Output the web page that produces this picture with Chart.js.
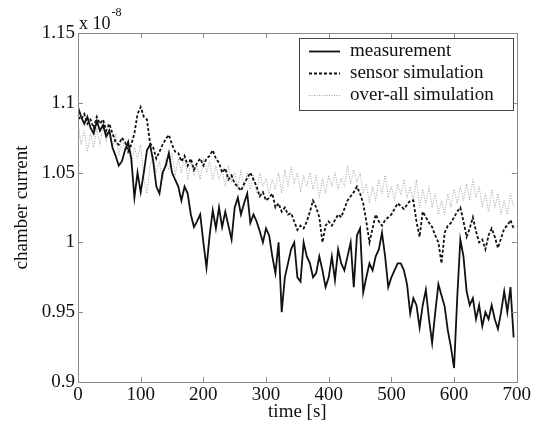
<!DOCTYPE html>
<html>
<head>
<meta charset="utf-8">
<script src="https://cdn.jsdelivr.net/npm/chart.js@4"></script>
<style>
  html, body { margin: 0; padding: 0; background: #fff; }
  #wrap { width: 533px; height: 428px; position: relative; }
</style>
</head>
<body>
<div id="wrap"><canvas id="chart_chamberCurrent"></canvas></div>
<script>
// time axis [s]
var timeValues = [
  0, 5, 10, 15, 20, 25, 30, 35, 40, 45,
  50, 55, 60, 65, 70, 75, 80, 85, 90, 95,
  100, 105, 110, 115, 120, 125, 130, 135, 140, 145,
  150, 155, 160, 165, 170, 175, 180, 185, 190, 195,
  200, 205, 210, 215, 220, 225, 230, 235, 240, 245,
  250, 255, 260, 265, 270, 275, 280, 285, 290, 295,
  300, 305, 310, 315, 320, 325, 330, 335, 340, 345,
  350, 355, 360, 365, 370, 375, 380, 385, 390, 395,
  400, 405, 410, 415, 420, 425, 430, 435, 440, 445,
  450, 455, 460, 465, 470, 475, 480, 485, 490, 495,
  500, 505, 510, 515, 520, 525, 530, 535, 540, 545,
  550, 555, 560, 565, 570, 575, 580, 585, 590, 595,
  600, 605, 610, 615, 620, 625, 630, 635, 640, 645,
  650, 655, 660, 665, 670, 675, 680, 685, 690, 695
];

// chamber current, in units of 1e-8
var measurement = [
  1.097, 1.09, 1.085, 1.09, 1.082, 1.078, 1.087, 1.08, 1.084, 1.076,
  1.08, 1.068, 1.062, 1.055, 1.058, 1.066, 1.072, 1.06, 1.032, 1.05,
  1.036, 1.05, 1.066, 1.07, 1.058, 1.04, 1.035, 1.05, 1.055, 1.064,
  1.05, 1.045, 1.04, 1.03, 1.04, 1.035, 1.02, 1.011, 1.015, 1.02,
  1.0, 0.982, 1.005, 1.023, 1.01, 1.025, 1.011, 1.022, 1.012, 1.002,
  1.025, 1.032, 1.02, 1.028, 1.035, 1.014, 1.02, 1.015, 1.008, 1.0,
  1.01, 1.005, 0.99, 0.978, 1.0, 0.95, 0.975, 0.985, 0.995, 1.0,
  0.975, 0.972, 1.0, 0.99, 0.985, 0.975, 0.978, 0.99, 0.98, 0.968,
  0.975, 0.99, 0.973, 0.995, 0.985, 0.98, 0.99, 1.0, 0.968, 1.005,
  1.01, 0.964, 0.975, 0.985, 0.98, 0.99, 0.995, 1.007, 0.99, 0.968,
  0.975, 0.98, 0.985, 0.985, 0.98, 0.97, 0.949, 0.96, 0.955, 0.939,
  0.955, 0.966, 0.945, 0.928, 0.95, 0.97, 0.962, 0.954, 0.937, 0.925,
  0.91, 0.96, 1.002, 0.99, 0.965, 0.955, 0.96, 0.945, 0.955, 0.94,
  0.95, 0.945, 0.955, 0.945, 0.938, 0.95, 0.965, 0.95, 0.968, 0.932
];

var sensorSimulation = [
  1.09, 1.088, 1.092, 1.085, 1.088, 1.082, 1.09, 1.085, 1.088, 1.08,
  1.085, 1.078, 1.072, 1.07, 1.075, 1.072, 1.065, 1.07, 1.078, 1.092,
  1.097, 1.09, 1.088, 1.071, 1.068, 1.06, 1.065, 1.07, 1.074, 1.077,
  1.07, 1.065, 1.064, 1.058, 1.062, 1.055, 1.06, 1.052, 1.057, 1.06,
  1.055, 1.06, 1.062, 1.066, 1.06, 1.057, 1.05, 1.053, 1.045, 1.048,
  1.042, 1.04, 1.037, 1.042, 1.046, 1.05, 1.045, 1.04, 1.033, 1.036,
  1.03, 1.032, 1.035, 1.025, 1.028, 1.022, 1.025, 1.02, 1.021, 1.015,
  1.009, 1.012, 1.01, 1.015, 1.022, 1.03, 1.025, 1.018, 1.0, 1.012,
  1.015, 1.012, 1.016, 1.02, 1.018, 1.024, 1.03, 1.033, 1.036, 1.04,
  1.035, 1.028, 1.015, 1.0, 1.01, 1.02, 1.015, 1.012, 1.016, 1.018,
  1.02, 1.024, 1.028, 1.026, 1.024, 1.027, 1.03, 1.03, 1.015, 1.004,
  1.022, 1.018, 1.014, 1.011, 1.005, 1.0, 0.985, 1.007, 1.012, 1.014,
  1.018, 1.022, 1.025, 1.015, 1.004, 1.01, 1.018, 1.008, 1.0, 1.002,
  0.995, 1.005, 1.01, 1.004, 0.996, 1.003, 1.01, 1.012, 1.016, 1.01
];

var overallSimulation = [
  1.085, 1.07, 1.08, 1.065, 1.078, 1.068, 1.082, 1.07, 1.085, 1.072,
  1.08, 1.068, 1.078, 1.062, 1.075, 1.065, 1.07, 1.055, 1.068, 1.06,
  1.07, 1.045, 1.035, 1.055, 1.062, 1.05, 1.058, 1.045, 1.06, 1.052,
  1.064, 1.048, 1.06, 1.05, 1.062, 1.045, 1.058, 1.048, 1.055, 1.045,
  1.06, 1.05, 1.058, 1.045, 1.055, 1.045, 1.052, 1.04, 1.055, 1.043,
  1.05, 1.038, 1.052, 1.04, 1.05, 1.038, 1.048, 1.035, 1.05, 1.04,
  1.046, 1.035, 1.045, 1.038, 1.05, 1.035, 1.052, 1.04, 1.054, 1.042,
  1.05, 1.036, 1.048, 1.04, 1.05, 1.038, 1.048, 1.032, 1.046, 1.035,
  1.048, 1.04, 1.05, 1.038, 1.046, 1.04, 1.055, 1.042, 1.052, 1.043,
  1.05, 1.035, 1.042, 1.028, 1.04, 1.03, 1.045, 1.035, 1.048, 1.032,
  1.04, 1.03, 1.042, 1.034, 1.045, 1.032, 1.04, 1.03, 1.045, 1.025,
  1.038, 1.028, 1.04, 1.025, 1.035, 1.02, 1.03, 1.02, 1.035, 1.025,
  1.038, 1.028, 1.04, 1.03, 1.042, 1.03, 1.045, 1.032, 1.04, 1.025,
  1.035, 1.022, 1.038, 1.025, 1.035, 1.02, 1.03, 1.02, 1.035, 1.025
];

var seriesLabels = ['measurement', 'sensor simulation', 'over-all simulation'];
var xTickValues = [0, 100, 200, 300, 400, 500, 600, 700];
var yTickValues = [0.9, 0.95, 1, 1.05, 1.1, 1.15];
var yExponentText = 'x 10';
var yExponent = '-8';

function toPoints(values) {
    return values.map(function (v, i) { return { x: timeValues[i], y: v }; });
}

var serif = '"Liberation Serif", "Times New Roman", serif';
var frameColor = '#8a8a8a';

var chart_chamberCurrent = new Chart(document.getElementById('chart_chamberCurrent'), {
    type: 'line',
    data: {
        datasets: [
            {
                label: seriesLabels[0],
                data: toPoints(measurement),
                borderColor: '#111',
                borderWidth: 1.8,
                pointRadius: 0,
                tension: 0
            },
            {
                label: seriesLabels[1],
                data: toPoints(sensorSimulation),
                borderColor: '#111',
                borderWidth: 1.8,
                borderDash: [3, 2],
                pointRadius: 0,
                tension: 0
            },
            {
                label: seriesLabels[2],
                data: toPoints(overallSimulation),
                borderColor: '#a0a0a0',
                borderWidth: 1,
                borderDash: [1, 1.5],
                pointRadius: 0,
                tension: 0
            }
        ]
    },
    options: {
        animation: false,
        responsive: true,
        maintainAspectRatio: false,
        layout: {
            padding: { top: 33, right: 15, left: 0, bottom: 0 }
        },
        plugins: {
            legend: { display: false },
            title: { display: false },
            tooltip: { enabled: false }
        },
        scales: {
            x: {
                type: 'linear',
                min: 0,
                max: 700,
                afterFit: function (scale) { scale.height = 46; },
                afterBuildTicks: function (scale) {
                    scale.ticks = xTickValues.map(function (v) { return { value: v }; });
                },
                title: {
                    display: true,
                    text: 'time [s]',
                    color: '#111',
                    font: { family: serif, size: 19 },
                    padding: { top: 0, bottom: 5 }
                },
                ticks: {
                    color: '#111',
                    font: { family: serif, size: 19 },
                    padding: 2,
                    maxRotation: 0
                },
                grid: { display: false, drawTicks: false },
                border: { display: false }
            },
            y: {
                type: 'linear',
                min: 0.9,
                max: 1.15,
                afterFit: function (scale) { scale.width = 78; },
                afterBuildTicks: function (scale) {
                    scale.ticks = yTickValues.map(function (v) { return { value: v }; });
                },
                title: {
                    display: true,
                    text: 'chamber current',
                    color: '#111',
                    font: { family: serif, size: 19 },
                    padding: { top: 11, bottom: 0 }
                },
                ticks: {
                    color: '#111',
                    font: { family: serif, size: 19 },
                    padding: 3,
                    callback: function (v) { return String(parseFloat(Number(v).toFixed(2))); }
                },
                grid: { display: false, drawTicks: false },
                border: { display: false }
            }
        }
    },
    plugins: [{
        id: 'matlabFrame',
        beforeDraw: function (chart) {
            var ctx = chart.ctx;
            ctx.save();
            ctx.fillStyle = 'white';
            ctx.fillRect(0, 0, chart.width, chart.height);
            ctx.restore();
        },
        afterDraw: function (chart) {
            var ctx = chart.ctx;
            var a = chart.chartArea;
            var xs = chart.scales.x, ys = chart.scales.y;
            var tl = 5;
            ctx.save();
            ctx.strokeStyle = frameColor;
            ctx.lineWidth = 1;
            ctx.strokeRect(Math.round(a.left) + 0.5, Math.round(a.top) + 0.5,
                Math.round(a.right - a.left), Math.round(a.bottom - a.top));
            ctx.beginPath();
            xTickValues.forEach(function (v) {
                var px = Math.round(xs.getPixelForValue(v)) + 0.5;
                ctx.moveTo(px, a.bottom); ctx.lineTo(px, a.bottom - tl);
                ctx.moveTo(px, a.top); ctx.lineTo(px, a.top + tl);
            });
            yTickValues.forEach(function (v) {
                var py = Math.round(ys.getPixelForValue(v)) + 0.5;
                ctx.moveTo(a.left, py); ctx.lineTo(a.left + tl, py);
                ctx.moveTo(a.right, py); ctx.lineTo(a.right - tl, py);
            });
            ctx.stroke();

            // exponent label
            ctx.fillStyle = '#111';
            ctx.textBaseline = 'alphabetic';
            ctx.textAlign = 'left';
            ctx.font = '18px ' + serif;
            ctx.fillText(yExponentText, a.left + 1, a.top - 4);
            var w = ctx.measureText(yExponentText).width;
            ctx.font = '12px ' + serif;
            ctx.fillText(yExponent, a.left + 2 + w, a.top - 17);

            // legend box
            var bx = 299, by = 38, bw = 214, bh = 72;
            ctx.fillStyle = '#fff';
            ctx.fillRect(bx, by, bw, bh);
            ctx.strokeStyle = '#444';
            ctx.strokeRect(bx + 0.5, by + 0.5, bw, bh);
            var rows = [51, 73, 95];
            chart.data.datasets.forEach(function (ds, i) {
                ctx.save();
                ctx.strokeStyle = ds.borderColor;
                ctx.lineWidth = ds.borderWidth;
                ctx.setLineDash(ds.borderDash || []);
                ctx.beginPath();
                ctx.moveTo(bx + 10, rows[i] + 0.5);
                ctx.lineTo(bx + 41, rows[i] + 0.5);
                ctx.stroke();
                ctx.restore();
                ctx.fillStyle = '#111';
                ctx.font = '19px ' + serif;
                ctx.textBaseline = 'middle';
                ctx.fillText(ds.label, bx + 51, rows[i]);
            });
            ctx.restore();
        }
    }]
});
</script>
</body>
</html>
